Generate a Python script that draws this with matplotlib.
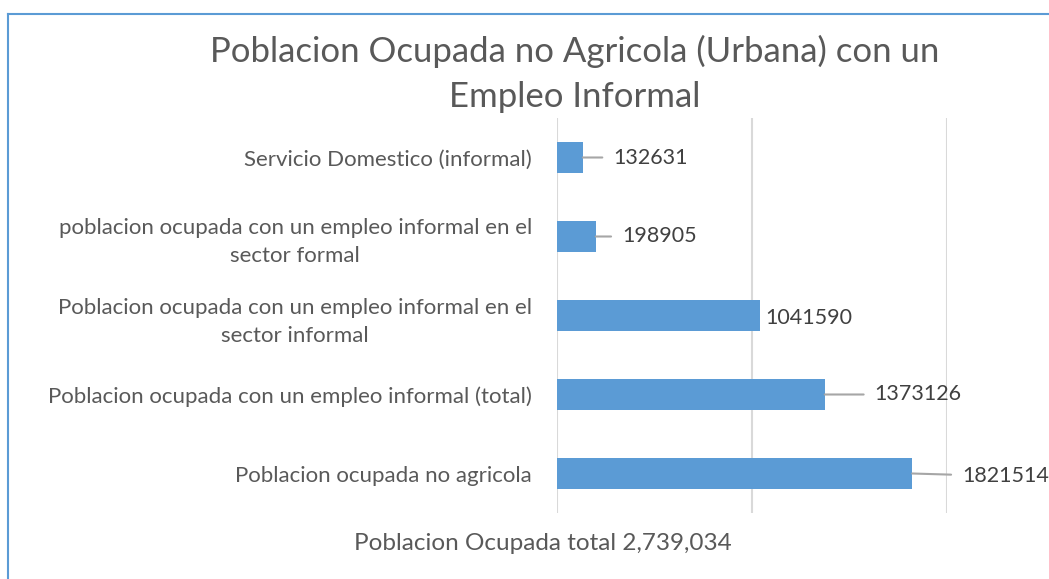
import matplotlib.pyplot as plt
from matplotlib.lines import Line2D

# data (bottom to top as drawn)
categorias = [
    "Poblacion ocupada no agricola",
    "Poblacion ocupada con un empleo informal (total)",
    "Poblacion ocupada con un empleo informal en el\nsector informal",
    "poblacion ocupada con un empleo informal en el\nsector formal",
    "Servicio Domestico (informal)",
]
valores = [1821514, 1373126, 1041590, 198905, 132631]

# how far (points) each value label sits right of its bar end
desplaz = [36, 36, 4, 19, 22]

plt.rcParams['font.family'] = ['Lato', 'DejaVu Sans']

fig = plt.figure(figsize=(10.49, 5.79), dpi=100)
W, H = 1049, 579
ax = fig.add_axes([557 / W, 1 - 513 / H, (947 - 557) / W, (513 - 118) / H])

y = list(range(len(categorias)))
ax.barh(y, valores, height=0.4, color='#5b9bd5', zorder=3)

ax.set_xlim(0, 2000000)
ax.set_ylim(-0.5, len(categorias) - 0.5)
ax.set_xticks([0, 1000000, 2000000])
ax.set_xticklabels([])
ax.tick_params(axis='x', length=0)
ax.grid(axis='x', color='#d9d9d9', linewidth=1.5, zorder=0)
ax.set_yticks(y)
ax.set_yticklabels(categorias, fontsize=16, color='#595959', multialignment='center',
                   linespacing=1.5)
ax.tick_params(axis='y', length=0, pad=18)
for s in ax.spines.values():
    s.set_visible(False)

for yi, v, d in zip(y, valores, desplaz):
    props = None
    if d > 10:
        props = dict(arrowstyle='-', color='#a6a6a6', lw=1.5, shrinkA=6, shrinkB=0)
    ax.annotate(str(v), xy=(v, yi), xytext=(d, -2 if d < 10 or v > 1500000 else 0),
                textcoords='offset points',
                ha='left', va='center', fontsize=15.5, color='#404040',
                arrowprops=props, annotation_clip=False)

fig.text(575 / W, 1 - 74 / H, "Poblacion Ocupada no Agricola (Urbana) con un\nEmpleo Informal",
         ha='center', va='center', fontsize=25, color='#595959', linespacing=1.5)
fig.text(543 / W, 1 - 543 / H, "Poblacion Ocupada total 2,739,034",
         ha='center', va='center', fontsize=17.5, color='#595959')

# chart frame edge (blue)
fig.add_artist(Line2D([8 / W, 8 / W], [0, 1 - 14 / H], transform=fig.transFigure, color='#5b9bd5', lw=1.5))
fig.add_artist(Line2D([8 / W, 1], [1 - 14 / H, 1 - 14 / H], transform=fig.transFigure, color='#5b9bd5', lw=1.5))

fig.savefig('out.png', dpi=100)
